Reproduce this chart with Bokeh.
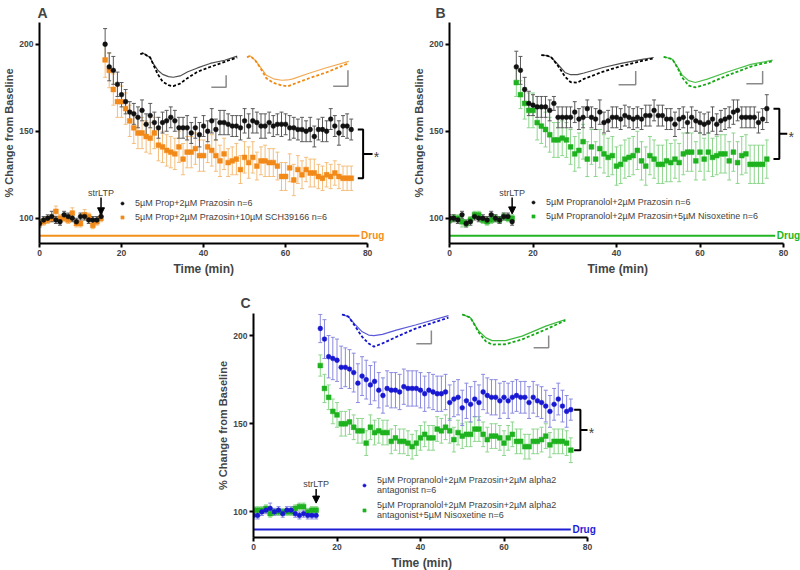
from bokeh.plotting import figure
from bokeh.layouts import column, row, Spacer
from bokeh.models import (Range1d, ColumnDataSource, Whisker, TeeHead, Arrow, NormalHead,
                          Label, Legend, LegendItem, FixedTicker, Title)
from bokeh.embed import file_html
from bokeh.resources import INLINE

FONT = "Liberation Sans"

# ---------------- data ----------------
TIME = list(range(0, 77))          # minutes
X_TICKS = [0, 20, 40, 60, 80]
Y_TICKS = [100, 150, 200]

# Panel A
A_CTRL_BASE = [97, 99, 100, 101, 99, 98, 102, 101, 100, 98, 101, 101, 99, 99, 99, 101]
A_CTRL_POST = [200, 187, 185, 177, 171, 167, 161, 160, 158, 162,
               154, 159, 155, 152, 155, 156, 158, 156, 152, 152,
               152, 149, 152, 148, 153, 150, 156, 151, 155, 155,
               154, 153, 153, 152, 156, 153, 156, 155, 153, 153,
               155, 153, 154, 154, 154, 152, 152, 151, 151, 150,
               151, 147, 151, 151, 150, 157, 153, 149, 153, 153,
               151]
A_CTRL_ERR_BASE = [2, 2, 2, 3, 2, 2, 2, 2, 2, 2, 2, 2, 2, 2, 2, 2]
A_CTRL_ERR_POST = [9, 8, 8, 7, 7, 7, 6, 6, 6, 6,
                   6, 7, 6, 6, 6, 6, 6, 6, 6, 6,
                   7, 6, 6, 7, 6, 6, 7, 6, 7, 7,
                   6, 6, 6, 7, 7, 7, 7, 6, 7, 7,
                   6, 6, 6, 7, 6, 7, 6, 6, 7, 6,
                   7, 6, 6, 7, 6, 6, 6, 7, 6, 7,
                   6]
A_DRUG_BASE = [97, 98, 99, 100, 104, 100, 100, 99, 103, 97, 97, 102, 101, 96, 98, 100]
A_DRUG_POST = [191, 185, 174, 167, 167, 163, 156, 152, 149, 149,
               147, 146, 149, 142, 141, 139, 138, 137, 141, 134,
               138, 138, 140, 136, 136, 141, 139, 136, 133, 137,
               132, 133, 134, 128, 135, 132, 135, 130, 133, 133,
               132, 132, 130, 124, 124, 129, 122, 128, 125, 128,
               126, 126, 124, 123, 125, 124, 126, 124, 123, 123,
               123]
A_DRUG_ERR_BASE = [2, 2, 2, 2, 3, 2, 2, 2, 3, 2, 2, 3, 2, 2, 2, 2]
A_DRUG_ERR_POST = [10, 10, 9, 9, 9, 9, 9, 9, 9, 9,
                   9, 9, 9, 9, 9, 9, 9, 9, 9, 9,
                   9, 9, 9, 9, 9, 9, 9, 9, 9, 9,
                   8, 8, 9, 8, 9, 9, 9, 8, 8, 9,
                   8, 8, 8, 8, 8, 8, 9, 8, 8, 7,
                   8, 8, 7, 7, 7, 7, 7, 7, 7, 7,
                   7]

# Panel B
B_CTRL_BASE = [100, 100, 99, 102, 97, 98, 101, 100, 100, 99, 102, 100, 99, 101, 101, 98]
B_CTRL_POST = [187, 185, 174, 166, 165, 164, 164, 164, 162, 166,
               158, 158, 158, 158, 161, 157, 158, 163, 158, 157,
               161, 155, 156, 158, 158, 157, 159, 158, 157, 158,
               157, 159, 159, 162, 159, 159, 157, 157, 154, 157,
               158, 155, 158, 156, 155, 154, 155, 157, 154, 156,
               157, 158, 161, 162, 158, 158, 158, 158, 155, 157,
               163]
B_CTRL_ERR_BASE = [2, 2, 2, 2, 2, 2, 2, 2, 2, 2, 2, 2, 2, 2, 2, 2]
B_CTRL_ERR_POST = [9, 8, 7, 7, 6, 6, 6, 6, 6, 4,
                   6, 6, 6, 6, 6, 6, 6, 5, 6, 6,
                   7, 6, 6, 6, 6, 6, 6, 6, 6, 6,
                   6, 6, 6, 6, 6, 6, 6, 6, 7, 6,
                   6, 6, 6, 6, 6, 6, 6, 7, 6, 6,
                   6, 6, 7, 6, 6, 6, 6, 6, 6, 6,
                   8]
B_DRUG_BASE = [99, 100, 100, 98, 97, 99, 102, 102, 99, 98, 99, 100, 99, 101, 100, 100]
B_DRUG_POST = [178, 171, 166, 162, 162, 155, 153, 151, 148, 145,
               145, 146, 145, 141, 137, 139, 144, 134, 141, 134,
               140, 137, 135, 136, 130, 131, 134, 135, 136, 139,
               133, 130, 136, 134, 131, 131, 133, 132, 134, 132,
               137, 138, 138, 133, 138, 134, 138, 135, 136, 137,
               137, 133, 138, 132, 136, 137, 131, 131, 131, 131,
               134]
B_DRUG_ERR_BASE = [2, 2, 2, 3, 2, 2, 2, 2, 2, 2, 2, 2, 2, 2, 2, 2]
B_DRUG_ERR_POST = [8, 8, 9, 10, 10, 10, 10, 10, 10, 10,
                   10, 10, 10, 10, 10, 10, 10, 10, 10, 10,
                   11, 11, 11, 11, 11, 11, 11, 11, 11, 11,
                   11, 11, 11, 11, 11, 11, 12, 11, 11, 11,
                   12, 11, 11, 11, 11, 12, 11, 11, 11, 11,
                   11, 11, 11, 12, 11, 11, 11, 11, 11, 11,
                   11]

# Panel C
C_CTRL_BASE = [98, 98, 100, 101, 102, 100, 101, 99, 101, 101, 99, 98, 99, 98, 98, 98]
C_CTRL_POST = [204, 198, 188, 187, 186, 182, 182, 181, 179, 173,
               177, 175, 172, 174, 169, 166, 170, 169, 169, 168,
               171, 170, 170, 170, 169, 167, 169, 168, 167, 167,
               168, 162, 164, 165, 159, 163, 161, 164, 162, 168,
               166, 165, 165, 163, 165, 163, 165, 166, 165, 165,
               162, 165, 163, 162, 160, 157, 161, 164, 160, 157,
               158]
C_CTRL_ERR_BASE = [2, 2, 2, 2, 3, 2, 2, 2, 2, 2, 2, 2, 2, 2, 2, 2]
C_CTRL_ERR_POST = [8, 11, 12, 12, 12, 12, 11, 11, 11, 11,
                   11, 11, 11, 11, 10, 10, 10, 10, 10, 10,
                   10, 10, 10, 10, 10, 10, 10, 10, 10, 10,
                   10, 10, 10, 10, 10, 10, 10, 10, 10, 10,
                   10, 10, 10, 10, 9, 10, 9, 9, 9, 9,
                   9, 9, 9, 9, 9, 9, 9, 9, 9, 9,
                   6]
C_DRUG_BASE = [101, 101, 101, 102, 99, 100, 100, 100, 100, 100, 102, 103, 103, 100, 101, 101]
C_DRUG_POST = [183, 170, 165, 157, 155, 150, 150, 151, 148, 146,
               146, 139, 148, 145, 146, 145, 145, 140, 142, 140,
               140, 139, 137, 139, 142, 144, 142, 142, 147, 146,
               148, 146, 141, 145, 143, 144, 144, 147, 147, 144,
               141, 143, 143, 142, 139, 142, 144, 140, 140, 137,
               137, 140, 140, 141, 143, 138, 140, 140, 140, 139,
               135]
C_DRUG_ERR_BASE = [2, 2, 2, 2, 2, 2, 2, 2, 2, 2, 2, 2, 2, 2, 2, 2]
C_DRUG_ERR_POST = [6, 8, 7, 7, 7, 7, 7, 7, 7, 7,
                   7, 7, 7, 7, 7, 7, 7, 7, 7, 7,
                   7, 7, 7, 7, 7, 7, 7, 7, 7, 7,
                   7, 7, 7, 7, 7, 7, 7, 7, 7, 7,
                   7, 7, 7, 7, 7, 7, 7, 7, 7, 7,
                   7, 7, 7, 7, 7, 7, 7, 7, 7, 7,
                   7]

LEGEND_A = ["5µM Prop+2µM Prazosin n=6",
            "5µM Prop+2µM Prazosin+10µM SCH39166 n=6"]
LEGEND_B = ["5µM Propranolol+2µM Prazosin n=6",
            "5µM Propranolol+2µM Prazosin+5µM Nisoxetine n=6"]
LEGEND_C = ["5µM Propranolol+2µM Prazosin+2µM alpha2\nantagonist n=6",
            "5µM Propranolol+2µM Prazosin+2µM alpha2\nantagonist+5µM Nisoxetine n=6"]

# representative sweeps (normalised time, normalised amplitude; -1 = deepest)
TR_A_L_T = [0, .03, .07, .10, .13, .18, .23, .29, .34, .41, .49, .59, .72, .87, 1.0]
TR_A_L_S = [0, .03, -.05, -.10, -.28, -.50, -.63, -.70, -.72, -.68, -.55, -.43, -.29, -.19, -.06]
TR_A_L_D = [0, .03, -.05, -.10, -.30, -.63, -.86, -.97, -1.0, -.92, -.74, -.55, -.40, -.24, -.10]
TR_A_R_T = [0, .03, .08, .13, .19, .26, .34, .40, .45, .61, .78, 1.0]
TR_A_R_S = [0, .05, -.10, -.33, -.62, -.74, -.79, -.78, -.74, -.55, -.36, -.14]
TR_A_R_D = [0, .05, -.10, -.36, -.72, -.88, -.97, -1.0, -.93, -.72, -.52, -.20]
TR_B_L_T = [0, .05, .09, .15, .21, .26, .32, .38, .55, .71, .91, 1.0]
TR_B_L_S = [0, -.02, -.09, -.35, -.63, -.71, -.71, -.65, -.45, -.30, -.15, -.09]
TR_B_L_D = [0, -.02, -.09, -.40, -.78, -.98, -1.0, -.86, -.60, -.40, -.20, -.12]
TR_B_R_T = [0, .08, .13, .17, .23, .29, .40, .59, .80, 1.0]
TR_B_R_S = [0, -.08, -.35, -.60, -.78, -.84, -.73, -.49, -.25, -.11]
TR_B_R_D = [0, -.08, -.38, -.68, -.94, -1.0, -.89, -.60, -.32, -.14]
TR_C_L_T = [0, .06, .12, .19, .25, .30, .38, .51, .69, 1.0]
TR_C_L_S = [0, -.07, -.30, -.54, -.64, -.66, -.62, -.49, -.33, -.04]
TR_C_L_D = [0, -.07, -.35, -.70, -.90, -1.0, -.90, -.70, -.44, -.10]
TR_C_R_T = [0, .08, .16, .23, .29, .42, .58, .81, 1.0]
TR_C_R_S = [0, -.11, -.55, -.78, -.87, -.87, -.72, -.39, -.17]
TR_C_R_D = [0, -.11, -.60, -.90, -1.0, -.99, -.83, -.50, -.20]

DRUG_Y = 90
STIM_T = 15


def whisk(p, x, y, e, color):
    src = ColumnDataSource(dict(x=x, upper=[a + b for a, b in zip(y, e)],
                                lower=[a - b for a, b in zip(y, e)]))
    w = Whisker(base="x", upper="upper", lower="lower", source=src, line_color=color, line_width=1,
                upper_head=TeeHead(size=4, line_color=color, line_width=1),
                lower_head=TeeHead(size=4, line_color=color, line_width=1))
    p.add_layout(w)


def trace(p, t, amp, box, color, width, dash):
    x0, x1, ytop, depth = box
    xs = [x0 + v * (x1 - x0) for v in t]
    ys = [ytop + v * depth for v in amp]
    p.line(xs, ys, line_color=color, line_width=width, line_dash=dash)


def make_panel(cfg):
    p = figure(width=cfg["w"], height=cfg["h"], x_range=Range1d(0, cfg["xend"]),
               y_range=Range1d(85.5, 212.5), output_backend="svg", toolbar_location=None,
               min_border_left=cfg["bl"], min_border_right=cfg["br"],
               min_border_top=cfg["bt"], min_border_bottom=cfg["bb"],
               title=cfg["name"])
    p.title.text_font = FONT
    p.title.text_font_size = "14px"
    p.title.text_font_style = "bold"
    p.title.offset = cfg["title_off"]
    p.title.standoff = cfg["title_sd"]
    p.outline_line_color = None
    p.grid.visible = False
    p.background_fill_color = "white"
    p.border_fill_color = "white"
    for ax in (p.xaxis[0], p.yaxis[0]):
        ax.axis_line_width = 2
        ax.axis_line_color = "black"
        ax.major_tick_line_width = 2
        ax.major_tick_out = 4
        ax.major_tick_in = 0
        ax.minor_tick_line_color = None
        ax.major_label_text_font = FONT
        ax.major_label_text_font_style = "bold"
        ax.major_label_text_font_size = "8.5px"
        ax.major_label_standoff = 2
        ax.axis_label_text_font = FONT
        ax.axis_label_text_font_style = "bold"
    p.xaxis.ticker = FixedTicker(ticks=X_TICKS)
    p.yaxis.ticker = FixedTicker(ticks=Y_TICKS)
    p.xaxis.bounds = (0, 80)
    p.yaxis.axis_label = "% Change from Baseline"
    p.yaxis.axis_label_text_font_size = "11px"
    p.yaxis.axis_label_standoff = 1
    p.add_layout(Title(text="Time (min)", align="left", offset=cfg["xt_off"], standoff=2,
                       text_font=FONT, text_font_style="bold", text_font_size="12px"), "below")

    # error bars
    for ser in cfg["series"][::-1]:
        y = ser["base"] + ser["post"]
        e = ser["ebase"] + ser["epost"]
        whisk(p, TIME, y, e, ser["ecolor"])
    rends = {}
    for i in (1, 0):
        ser = cfg["series"][i]
        y = ser["base"] + ser["post"]
        rends[i] = p.scatter(TIME, y, marker=ser["marker"], size=4.8, fill_color=ser["color"],
                             line_color=ser["color"], line_width=0.5)

    # drug bar
    p.segment(x0=[0], y0=[DRUG_Y], x1=[cfg["drug_end"]], y1=[DRUG_Y],
              line_color=cfg["drug_color"], line_width=2)
    p.add_layout(Label(x=cfg["drug_end"] + 0.4, y=DRUG_Y, text="Drug", text_baseline="middle",
                       text_font=FONT, text_font_style="bold", text_font_size="10px",
                       text_color=cfg["drug_color"]))

    # stimulation arrow
    sa = cfg["stim"]
    p.add_layout(Arrow(end=NormalHead(size=7, fill_color="black", line_color="black"),
                       x_start=STIM_T, y_start=sa[1], x_end=STIM_T, y_end=sa[2],
                       line_width=1.5, line_color="black"))
    p.add_layout(Label(x=STIM_T, y=sa[0], text="strLTP", text_align="center",
                       text_baseline="middle", text_font=FONT, text_font_size="9px"))

    # bracket + star
    top = cfg["series"][0]["post"][-1]
    bot = cfg["series"][1]["post"][-1]
    bx0, bx1, bx2 = cfg["bracket"]
    mid = (top + bot) / 2
    p.line([bx0, bx1, bx1, bx0], [top, top, bot, bot], line_color="black", line_width=2)
    p.line([bx1, bx2], [mid, mid], line_color="black", line_width=2)
    p.add_layout(Label(x=bx2 + 0.3, y=mid, text="*", text_baseline="middle",
                       text_font=FONT, text_font_size="14px", y_offset=-3))

    # sweeps
    for (t, s, d, box, cs, cd) in cfg["traces"]:
        trace(p, t, s, box, cs, 1.2, "solid")
        trace(p, t, d, box, cd, 1.8, "3 2")
    for (x0, x1, y0, y1) in cfg["scalebars"]:
        p.line([x0, x1, x1], [y0, y0, y1], line_color="#8a8a8a", line_width=1.5)

    # legend
    items = [LegendItem(label=lab, renderers=[rends[i]]) for i, lab in enumerate(cfg["legend"])]
    leg = Legend(items=items, location=cfg["legend_loc"], padding=0, margin=0, spacing=cfg["leg_sp"],
                 glyph_width=8, glyph_height=10, label_height=10, label_standoff=9,
                 border_line_color=None, background_fill_alpha=0,
                 label_text_font=FONT, label_text_font_size="9px")
    p.add_layout(leg)
    return p


BLACK, GRAYBAR = "#111111", "#5a5a5a"
ORANGE, ORANGE_E = "#f28a1a", "#f4be7c"
GREEN, GREEN_E = "#1fb21f", "#8dd68d"
BLUE, BLUE_E = "#1818d2", "#8a8ae0"

cfgA = dict(name="A", w=400, h=280, xend=84.6, bl=38, br=14, bt=22, bb=37,
            title_off=-2, title_sd=4, xt_off=134,
            series=[dict(base=A_CTRL_BASE, post=A_CTRL_POST, ebase=A_CTRL_ERR_BASE, epost=A_CTRL_ERR_POST,
                         color=BLACK, ecolor=GRAYBAR, marker="circle"),
                    dict(base=A_DRUG_BASE, post=A_DRUG_POST, ebase=A_DRUG_ERR_BASE, epost=A_DRUG_ERR_POST,
                         color=ORANGE, ecolor=ORANGE_E, marker="square")],
            drug_end=78, drug_color="#f39019", stim=(114.5, 112, 102), bracket=(77.6, 78.9, 81.2),
            traces=[(TR_A_L_T, TR_A_L_S, TR_A_L_D, (24.6, 48.2, 194.3, 18.4), "#505050", "#000000"),
                    (TR_A_R_T, TR_A_R_S, TR_A_R_D, (50.6, 75.4, 192.5, 16.7), "#f3aa55", "#f08a14")],
            scalebars=[(41.9, 45.5, 175.3, 182.2), (71.6, 75.2, 175.9, 185.1)],
            legend=LEGEND_A, legend_loc=(79, 21), leg_sp=4)

cfgB = dict(name="B", w=400, h=280, xend=84.07, bl=49, br=0, bt=22, bb=37,
            title_off=-14, title_sd=4, xt_off=138,
            series=[dict(base=B_CTRL_BASE, post=B_CTRL_POST, ebase=B_CTRL_ERR_BASE, epost=B_CTRL_ERR_POST,
                         color=BLACK, ecolor=GRAYBAR, marker="circle"),
                    dict(base=B_DRUG_BASE, post=B_DRUG_POST, ebase=B_DRUG_ERR_BASE, epost=B_DRUG_ERR_POST,
                         color=GREEN, ecolor=GREEN_E, marker="square")],
            drug_end=78, drug_color="#22b522", stim=(114.5, 112, 102.5), bracket=(77.6, 79.0, 80.9),
            traces=[(TR_B_L_T, TR_B_L_S, TR_B_L_D, (22.0, 48.9, 193.8, 15.9), "#505050", "#000000"),
                    (TR_B_R_T, TR_B_R_S, TR_B_R_D, (51.3, 77.4, 192.8, 17.6), "#4cc04c", "#15a815")],
            scalebars=[(40.5, 44.6, 176.7, 184.7), (71.1, 75.0, 177.3, 184.7)],
            legend=LEGEND_B, legend_loc=(80, 22), leg_sp=4)

cfgC = dict(name="C", w=410, h=290, xend=84.55, bl=53, br=4, bt=33, bb=33,
            title_off=-13, title_sd=6, xt_off=138,
            series=[dict(base=C_CTRL_BASE, post=C_CTRL_POST, ebase=C_CTRL_ERR_BASE, epost=C_CTRL_ERR_POST,
                         color=BLUE, ecolor=BLUE_E, marker="circle"),
                    dict(base=C_DRUG_BASE, post=C_DRUG_POST, ebase=C_DRUG_ERR_BASE, epost=C_DRUG_ERR_POST,
                         color=GREEN, ecolor=GREEN_E, marker="square")],
            drug_end=76, drug_color="#1e1ed6", stim=(116, 113, 105), bracket=(76.8, 78.3, 80.0),
            traces=[(TR_C_L_T, TR_C_L_S, TR_C_L_D, (21.2, 46.7, 212.0, 18.3), "#5a5ad8", "#1515d0"),
                    (TR_C_R_T, TR_C_R_S, TR_C_R_D, (50.0, 74.7, 212.0, 17.1), "#3cb83c", "#15a815")],
            scalebars=[(39.0, 42.6, 195.4, 202.9), (67.1, 70.7, 193.1, 200.0)],
            legend=LEGEND_C, legend_loc=(107, 17), leg_sp=5)

pA = make_panel(cfgA)
pB = make_panel(cfgB)
pC = make_panel(cfgC)

layout = column(row(pA, pB, spacing=0), row(Spacer(width=200, height=290), pC, spacing=0), spacing=0)
open("out.html", "w").write(file_html(layout, INLINE))
